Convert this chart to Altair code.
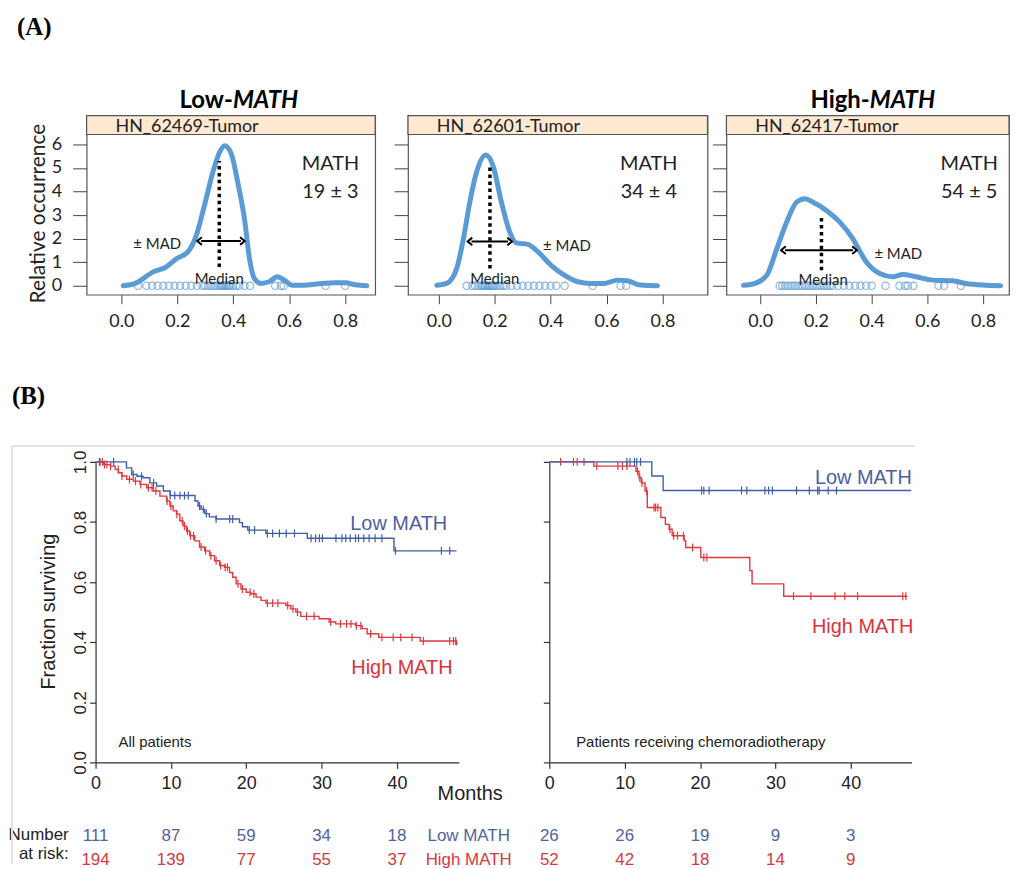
import bisect
import altair as alt
import pandas as pd

# ---------------- (A) density panels ----------------
strip_labels = ["HN_62469-Tumor", "HN_62601-Tumor", "HN_62417-Tumor"]
math_values = ["19 ± 3", "34 ± 4", "54 ± 5"]

d1_x = [0.007, 0.05, 0.114, 0.161, 0.197, 0.238, 0.268, 0.297, 0.327, 0.351, 0.369, 0.393, 0.416,
        0.44, 0.458, 0.475, 0.499, 0.528, 0.558, 0.582, 0.611, 0.647, 0.718, 0.765, 0.80, 0.836, 0.877]
d1_y = [0.0, 0.1, 0.59, 0.8, 1.15, 1.44, 2.14, 3.41, 4.82, 5.66, 5.94, 5.6, 4.39,
        2.84, 1.15, 0.31, 0.1, 0.17, 0.38, 0.24, 0.02, 0.02, 0.1, 0.13, 0.13, 0.04, 0.0]
d2_x = [-0.007, 0.028, 0.064, 0.088, 0.111, 0.135, 0.168, 0.194, 0.224, 0.254, 0.277, 0.319, 0.355,
        0.402, 0.449, 0.497, 0.544, 0.592, 0.639, 0.675, 0.722, 0.782]
d2_y = [0.02, 0.1, 0.73, 1.99, 3.55, 4.82, 5.55, 5.1, 3.55, 2.28, 1.82, 1.76, 1.44,
        0.87, 0.45, 0.17, 0.1, 0.1, 0.24, 0.21, 0.03, 0.0]
d3_x = [-0.06, -0.018, 0.024, 0.06, 0.095, 0.131, 0.161, 0.19, 0.238, 0.286, 0.333, 0.381, 0.429,
        0.476, 0.512, 0.559, 0.619, 0.69, 0.738, 0.798, 0.863]
d3_y = [0.02, 0.1, 0.45, 1.58, 2.7, 3.55, 3.69, 3.55, 3.2, 2.7, 1.99, 1.01, 0.52,
        0.38, 0.48, 0.38, 0.24, 0.21, 0.1, 0.03, 0.0]

rug1 = [0.06, 0.09, 0.11, 0.13, 0.15, 0.17, 0.19, 0.21, 0.23, 0.25, 0.27, 0.29, 0.30, 0.31, 0.32,
        0.33, 0.34, 0.35, 0.355, 0.36, 0.365, 0.37, 0.375, 0.38, 0.385, 0.39, 0.40, 0.41, 0.42,
        0.44, 0.46, 0.55, 0.57, 0.58, 0.73, 0.80]
rug2 = [0.10, 0.12, 0.13, 0.14, 0.15, 0.155, 0.16, 0.165, 0.17, 0.175, 0.18, 0.185, 0.19, 0.195,
        0.20, 0.21, 0.22, 0.23, 0.24, 0.26, 0.28, 0.30, 0.32, 0.34, 0.36, 0.38, 0.40, 0.42, 0.45,
        0.55, 0.65, 0.67]
rug3 = [0.07, 0.08, 0.09, 0.10, 0.11, 0.12, 0.13, 0.14, 0.15, 0.16, 0.17, 0.18, 0.19, 0.20, 0.21,
        0.22, 0.23, 0.24, 0.25, 0.26, 0.28, 0.30, 0.32, 0.34, 0.36, 0.38, 0.40, 0.45, 0.50, 0.52,
        0.53, 0.55, 0.64, 0.66, 0.72]

medians = [0.35, 0.183, 0.22]
mad_lo = [0.285, 0.117, 0.089]
mad_hi = [0.427, 0.248, 0.333]
arrow_y = [1.9, 1.88, 1.51]
median_top = [5.3, 5.03, 2.99]
median_bottom = [0.8, 0.73, 0.66]
mad_text_x = [0.043, 0.373, 0.41]
mad_text_y = [1.76, 1.69, 1.34]
median_text_x = [0.35, 0.2, 0.226]
median_text_y = [0.3, 0.27, 0.24]

x_ticks_a = [0.0, 0.2, 0.4, 0.6, 0.8]
y_ticks_a = [0, 1, 2, 3, 4, 5, 6]

# ---------------- (B) Kaplan-Meier ----------------
km1_low_t = [4.1, 4.8, 5.5, 6.3, 7.2, 8.1, 9.0, 9.9, 13.2, 13.6, 14.0, 14.5, 15.1, 16.0, 19.1, 19.5,
             20.2, 22.6, 28.1, 39.6]
km1_low_s = [0.98, 0.958, 0.952, 0.947, 0.93, 0.92, 0.903, 0.888, 0.87, 0.853, 0.842, 0.828, 0.817,
             0.81, 0.798, 0.784, 0.773, 0.762, 0.746, 0.704]
km1_low_end = 47.9
km1_low_cens = [0.6, 2.4, 5.0, 6.1, 7.7, 9.9, 10.5, 11.2, 11.8, 12.3, 13.8, 14.3, 14.7, 16.0, 17.8,
                18.2, 20.4, 21.1, 22.8, 23.5, 24.4, 25.3, 26.4, 28.6, 29.2, 29.7, 30.1, 31.9, 32.7,
                33.2, 33.8, 34.5, 34.9, 35.6, 36.3, 37.1, 38.0, 39.8, 45.9, 47.0]

km1_high_t = [1.06, 1.94, 2.6, 3.04, 3.48, 4.14, 5.02, 5.9, 6.78, 7.66, 8.54, 9.42, 9.86, 10.3, 10.74,
              11.18, 11.6, 12.06, 12.5, 13.16, 13.8, 14.48, 15.14, 15.8, 16.46, 17.1, 17.78, 18.2,
              18.66, 19.3, 19.98, 20.6, 21.3, 21.96, 22.6, 25.26, 25.9, 26.58, 27.24, 29.66, 31.0,
              31.86, 34.5, 35.38, 36.04, 37.58, 43.08, 47.92]
km1_high_s = [0.991, 0.986, 0.975, 0.964, 0.953, 0.942, 0.936, 0.925, 0.914, 0.903, 0.886, 0.87,
              0.853, 0.837, 0.826, 0.804, 0.787, 0.77, 0.754, 0.737, 0.717, 0.704, 0.688, 0.671,
              0.655, 0.649, 0.632, 0.616, 0.594, 0.577, 0.566, 0.561, 0.55, 0.539, 0.53, 0.522,
              0.511, 0.5, 0.486, 0.478, 0.467, 0.461, 0.455, 0.445, 0.428, 0.416, 0.404, 0.392]
km1_high_end = 48.0
km1_high_cens = [0.5, 0.9, 1.2, 1.5, 2.0, 3.0, 3.5, 4.5, 5.3, 6.0, 7.0, 7.5, 8.0, 9.5, 10.0, 10.8,
                 11.5, 11.8, 12.2, 12.6, 13.0, 14.0, 14.6, 15.3, 16.0, 16.6, 17.2, 17.5, 18.9, 19.5,
                 20.5, 21.0, 22.8, 23.5, 24.2, 25.5, 26.2, 26.8, 28.0, 29.0, 31.2, 32.5, 33.3, 33.9,
                 34.6, 35.2, 36.5, 38.0, 39.5, 40.5, 42.0, 43.5, 47.0, 47.5, 47.8]

km2_low_t = [13.6, 15.1]
km2_low_s = [0.953, 0.905]
km2_low_end = 48.0
km2_low_cens = [10.3, 10.7, 11.3, 11.6, 12.1, 20.2, 20.5, 21.2, 25.5, 26.2, 28.6, 29.1, 29.6, 32.8,
                34.5, 35.6, 35.8, 37.0, 38.1]

km2_high_t = [5.9, 11.5, 11.9, 12.2, 12.7, 13.0, 14.8, 15.4, 15.9, 16.3, 17.9, 18.1, 20.1, 26.6,
              26.9, 31.1]
km2_high_s = [0.986, 0.969, 0.947, 0.93, 0.903, 0.848, 0.815, 0.792, 0.776, 0.754, 0.737, 0.715,
              0.682, 0.638, 0.594, 0.553]
km2_high_end = 47.5
km2_high_cens = [1.5, 3.2, 3.7, 4.6, 6.3, 9.1, 9.7, 10.3, 11.7, 12.0, 12.3, 12.9, 13.9, 14.1, 14.4,
                 16.0, 16.5, 17.0, 17.8, 19.0, 20.5, 20.9, 32.4, 34.7, 37.9, 39.2, 40.9, 46.9, 47.3]

risk_months = [0, 10, 20, 30, 40]
risk1_low = [111, 87, 59, 34, 18]
risk1_high = [194, 139, 77, 55, 37]
risk2_low = [26, 26, 19, 9, 3]
risk2_high = [52, 42, 18, 14, 9]

x_ticks_b = [0, 10, 20, 30, 40]
y_ticks_b = [0.0, 0.2, 0.4, 0.6, 0.8, 1.0]

# ---------------- styles ----------------
FA = "Lato"
FB = "Liberation Sans"
FN = "Liberation Sans Narrow, Liberation Sans"
FS = "Liberation Serif"
DBLUE = "#5b9bd5"
STRIP = "#fde9d2"
KBLUE = "#3f5ea6"
KRED = "#e0393e"
TBLUE = "#4e5f9e"
TRED = "#d8343c"
NBLUE = "#5064a0"
NRED = "#d43a40"

A_H = 180
A_YDOM = [-0.38, 7.224]
ONE = pd.DataFrame({"v": [0]})


def txt(text, x, y, size, font, color="#222", align="left", baseline="middle", weight="normal",
        style="normal"):
    return alt.Chart(ONE).mark_text(
        text=text, font=font, fontSize=size, color=color, align=align, baseline=baseline,
        fontWeight=weight, fontStyle=style
    ).encode(x=alt.value(x), y=alt.value(y))


def density_panel(i, dx, dy, rug, xdom, width, first, extra):
    xs = alt.Scale(domain=xdom, nice=False, zero=False)
    ys = alt.Scale(domain=A_YDOM, nice=False, zero=False)
    xaxis = alt.Axis(values=x_ticks_a, format=".1f", tickSize=9, tickColor="#444", domain=False,
                     grid=False, labelFont=FA, labelFontSize=18, labelColor="#222", labelPadding=9,
                     labelFlush=False, labelOverlap=False, title=None)
    if first:
        yaxis = alt.Axis(values=y_ticks_a, tickSize=14, tickColor="#444", domain=False, grid=False,
                         labelFont=FA, labelFontSize=18, labelColor="#222", labelPadding=11,
                         labelFlush=False, labelOverlap=False,
                         title="Relative occurrence", titleFont=FA, titleFontSize=21,
                         titleFontWeight="normal", titleColor="#222", titleAngle=270,
                         titleX=-48, titleY=98, titleAlign="center", titleBaseline="middle")
    else:
        yaxis = alt.Axis(values=y_ticks_a, tickSize=14, tickColor="#444", domain=False, grid=False,
                         labels=False, title=None)

    def X(f="x"):
        return alt.X(f + ":Q", scale=xs, axis=xaxis)

    def Y(f="y"):
        return alt.Y(f + ":Q", scale=ys, axis=yaxis)

    strip = alt.Chart(ONE).mark_rect(fill=STRIP, stroke="#555", strokeWidth=1.2).encode(
        x=alt.value(0), x2=alt.value(width), y=alt.value(0), y2=alt.value(19))
    strip_t = txt(strip_labels[i], 29, 16, 18, FA, baseline="alphabetic")

    dens = alt.Chart(pd.DataFrame({"x": dx, "y": dy})).mark_line(
        color=DBLUE, strokeWidth=5, interpolate="monotone", strokeCap="round", strokeJoin="round"
    ).encode(x=X(), y=Y())

    rugc = alt.Chart(pd.DataFrame({"x": rug, "y": [0] * len(rug)})).mark_point(
        shape="circle", filled=False, size=55, strokeWidth=1.1, color=DBLUE
    ).encode(x=X(), y=Y())

    med = alt.Chart(pd.DataFrame({"x": [medians[i]], "y": [median_bottom[i]],
                                  "y2": [median_top[i]]})).mark_rule(
        color="black", strokeWidth=3.5, strokeDash=[3.5, 3.5]
    ).encode(x=X(), y=Y(), y2="y2:Q")

    arr = alt.Chart(pd.DataFrame({"x": [mad_lo[i]], "x2": [mad_hi[i]], "y": [arrow_y[i]]})).mark_rule(
        color="black", strokeWidth=2
    ).encode(x=X(), x2="x2:Q", y=Y())
    headl = alt.Chart(pd.DataFrame({"x": [mad_lo[i]], "y": [arrow_y[i]]})).mark_point(
        shape="M0.2,-1L-1,0L0.2,1", filled=False, size=60, strokeWidth=2, color="black", opacity=1
    ).encode(x=X(), y=Y())
    headr = alt.Chart(pd.DataFrame({"x": [mad_hi[i]], "y": [arrow_y[i]]})).mark_point(
        shape="M-0.2,-1L1,0L-0.2,1", filled=False, size=60, strokeWidth=2, color="black", opacity=1
    ).encode(x=X(), y=Y())

    madt = alt.Chart(pd.DataFrame({"x": [mad_text_x[i]], "y": [mad_text_y[i]]})).mark_text(
        text="± MAD", font=FA, fontSize=15, color="#222", align="left", baseline="middle"
    ).encode(x=X(), y=Y())
    medt = alt.Chart(pd.DataFrame({"x": [median_text_x[i]], "y": [median_text_y[i]]})).mark_text(
        text="Median", font=FA, fontSize=15, color="#222", align="center", baseline="middle"
    ).encode(x=X(), y=Y())

    mx = [245, 242, 244][i]
    m1 = txt("MATH", mx, 49, 20, FA, align="center")
    m2 = txt(math_values[i], mx, 77, 20, FA, align="center")

    layers = [dens, strip, strip_t, rugc, med, arr, headl, headr, madt, medt, m1, m2] + extra
    return alt.layer(*layers).properties(
        width=width, height=A_H, view=alt.ViewBackground(stroke="#555", strokeWidth=1.2))


p1 = density_panel(0, d1_x, d1_y, rug1, [-0.124, 0.907], 290, True, [
    txt("(A)", -70, -89, 25, FS, color="black", weight="bold"),
    txt("Low-", 147, -15, 24, FA, color="black", align="right", weight="bold"),
    txt("MATH", 147, -15, 24, FA, color="black", align="left", weight="bold", style="italic"),
])
p2 = density_panel(1, d2_x, d2_y, rug2, [-0.11, 0.961], 301, False, [])
p3 = density_panel(2, d3_x, d3_y, rug3, [-0.121, 0.893], 284, False, [
    txt("High-", 144, -15, 24, FA, color="black", align="right", weight="bold"),
    txt("MATH", 144, -15, 24, FA, color="black", align="left", weight="bold", style="italic"),
])


def steps(ts, ss, end):
    t = [0.0] + list(ts) + [end]
    s = [1.0] + list(ss) + [ss[-1]]
    return t, s


def surv_at(ts, ss, c):
    k = bisect.bisect_right(ts, c)
    return 1.0 if k == 0 else ss[k - 1]


K_H = 302


def km_panel(low, high, xmax, width, first, notes, risk_low, risk_high, extra):
    xs = alt.Scale(domain=[0, xmax], nice=False, zero=False)
    ys = alt.Scale(domain=[0, 1], nice=False, zero=False)
    cscale = alt.Scale(domain=["High", "Low"], range=[KRED, KBLUE])
    common = dict(tickSize=6, tickColor="#333", tickWidth=1.2, domainColor="#333", domainWidth=1.2,
                  grid=False, labelFont=FB, labelColor="#222", labelFlush=False, labelOverlap=False)
    if first:
        xaxis = alt.Axis(values=x_ticks_b, labelFontSize=18, labelPadding=6, title="Months",
                         titleFont=FB, titleFontSize=20, titleFontWeight="normal", titleColor="#222",
                         titleX=376, titleY=31, titleAlign="center", titleBaseline="middle", **common)
        yaxis = alt.Axis(values=y_ticks_b, format=".1f", labelFontSize=17, labelAngle=270,
                         labelAlign="center", labelBaseline="alphabetic", labelPadding=4,
                         title="Fraction surviving", titleFont=FB, titleFontSize=20,
                         titleFontWeight="normal", titleColor="#222", titleAngle=270, titleX=-47,
                         titleY=150, titleAlign="center", titleBaseline="middle", **common)
    else:
        xaxis = alt.Axis(values=x_ticks_b, labelFontSize=18, labelPadding=6, title=None, **common)
        yaxis = alt.Axis(values=y_ticks_b, labels=False, title=None, **common)

    def X():
        return alt.X("t:Q", scale=xs, axis=xaxis)

    def Y():
        return alt.Y("s:Q", scale=ys, axis=yaxis)

    rows = []
    cens = []
    for g, (ts, ss, end, cc) in [("High", high), ("Low", low)]:
        t, s = steps(ts, ss, end)
        rows += [{"t": a, "s": b, "g": g} for a, b in zip(t, s)]
        cens += [{"t": c, "s": surv_at(ts, ss, c), "g": g} for c in cc]
    lines = alt.Chart(pd.DataFrame(rows)).mark_line(interpolate="step-after", strokeWidth=1.4).encode(
        x=X(), y=Y(), color=alt.Color("g:N", scale=cscale, legend=None), detail="g:N")
    ticks = alt.Chart(pd.DataFrame(cens)).mark_point(
        shape="M0,-1L0,1", filled=False, size=64, strokeWidth=1.2, opacity=1).encode(
        x=X(), y=Y(), color=alt.Color("g:N", scale=cscale, legend=None))

    rl = alt.Chart(pd.DataFrame({"t": risk_months, "n": [str(v) for v in risk_low]})).mark_text(
        font=FN, fontSize=17, color=NBLUE, align="center", baseline="middle").encode(
        x=X(), y=alt.value(K_H + 74), text="n:N")
    rh = alt.Chart(pd.DataFrame({"t": risk_months, "n": [str(v) for v in risk_high]})).mark_text(
        font=FN, fontSize=17, color=NRED, align="center", baseline="middle").encode(
        x=X(), y=alt.value(K_H + 98), text="n:N")

    layers = [lines, ticks, rl, rh] + notes + extra
    return alt.layer(*layers).properties(width=width, height=K_H)


k1 = km_panel(
    (km1_low_t, km1_low_s, km1_low_end, km1_low_cens),
    (km1_high_t, km1_high_s, km1_high_end, km1_high_cens),
    48.2, 365, True,
    [txt("Low MATH", 256, 62, 20, FB, color=TBLUE),
     txt("High MATH", 257, 207, 20, FB, color=TRED),
     txt("All patients", 23, 282, 15, FB, color="#222")],
    risk1_low, risk1_high,
    [txt("Low MATH", 375, K_H + 74, 17, FN, color=NBLUE, align="center"),
     txt("High MATH", 375, K_H + 98, 17, FN, color=NRED, align="center"),
     txt("Number", -27, K_H + 73, 17, FN, color="#222", align="right"),
     txt("at risk:", -27, K_H + 92, 17, FN, color="#222", align="right"),
     txt("(B)", -84, -66, 25, FS, color="black", weight="bold"),
     alt.Chart(ONE).mark_rule(color="#e2e2e2", strokeWidth=2).encode(
         x=alt.value(-84), x2=alt.value(823), y=alt.value(-16)),
     alt.Chart(ONE).mark_rule(color="#e2e2e2", strokeWidth=2).encode(
         x=alt.value(-84), y=alt.value(-16), y2=alt.value(404))])

k2 = km_panel(
    (km2_low_t, km2_low_s, km2_low_end, km2_low_cens),
    (km2_high_t, km2_high_s, km2_high_end, km2_high_cens),
    48.05, 364, False,
    [txt("Low MATH", 267, 16, 20, FB, color=TBLUE),
     txt("High MATH", 264, 166, 20, FB, color=TRED),
     txt("Patients receiving chemoradiotherapy", 27, 282, 15, FB, color="#222")],
    risk2_low, risk2_high, [])

spacer = alt.Chart(ONE).mark_point(opacity=0).encode(x=alt.value(0), y=alt.value(0)).properties(
    width=9, height=K_H)

rowA = alt.hconcat(p1, alt.hconcat(p2, p3, spacing=19, bounds="flush"), spacing=33, bounds="flush")
rowB = alt.hconcat(spacer, alt.hconcat(k1, k2, spacing=91, bounds="flush"), spacing=0, bounds="flush")

chart = alt.vconcat(rowA, rowB, spacing=348, bounds="flush").properties(
    padding={"left": 0, "top": 4, "right": 0, "bottom": 0}
).configure_view(stroke="transparent")

chart.save("out.html", embed_options={"renderer": "svg", "actions": False})
